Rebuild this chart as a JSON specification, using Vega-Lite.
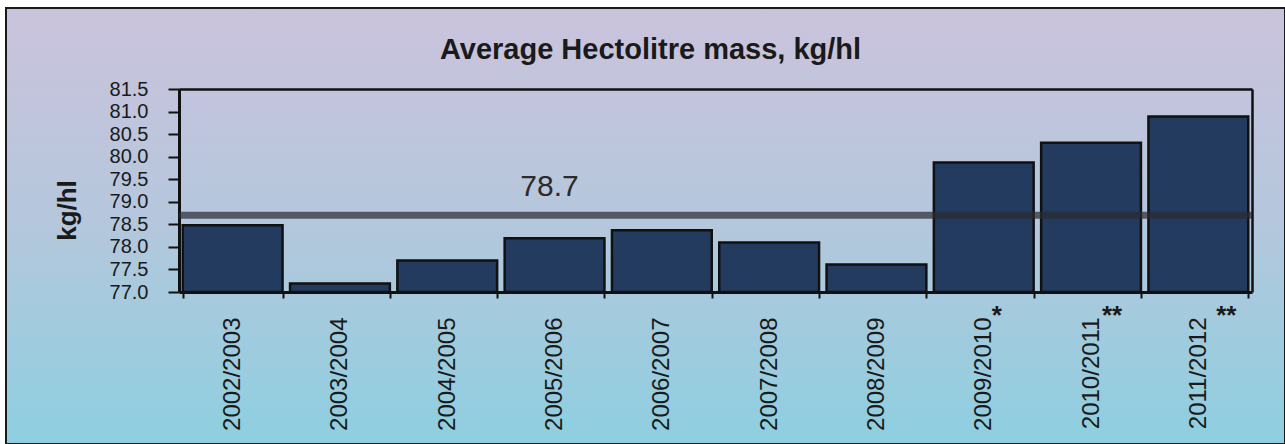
{
  "$schema": "https://vega.github.io/schema/vega-lite/v6.json",
  "width": 1279,
  "height": 436,
  "autosize": {"type": "none"},
  "padding": {"left": 6, "top": 8, "right": 0, "bottom": 0},
  "background": "white",
  "title": {
    "text": "Average Hectolitre  mass, kg/hl",
    "font": "Liberation Sans",
    "fontSize": 29,
    "fontWeight": "bold",
    "color": "#1a1a1a",
    "anchor": "middle",
    "baseline": "alphabetic",
    "offset": 0,
    "dy": 80,
    "dx": 5
  },
  "config": {
    "view": {
      "fill": {
        "gradient": "linear",
        "x1": 0, "y1": 0, "x2": 0, "y2": 1,
        "stops": [
          {"offset": 0, "color": "#CBC3DC"},
          {"offset": 0.5, "color": "#B4C7DC"},
          {"offset": 1, "color": "#8DCFE0"}
        ]
      },
      "stroke": "#1a1a1a",
      "strokeWidth": 2
    },
    "font": "Liberation Sans"
  },
  "datasets": {
    "seasons": [
      {"season": "2002/2003", "value": 78.48, "note": ""},
      {"season": "2003/2004", "value": 77.19, "note": ""},
      {"season": "2004/2005", "value": 77.7, "note": ""},
      {"season": "2005/2006", "value": 78.19, "note": ""},
      {"season": "2006/2007", "value": 78.37, "note": ""},
      {"season": "2007/2008", "value": 78.1, "note": ""},
      {"season": "2008/2009", "value": 77.61, "note": ""},
      {"season": "2009/2010", "value": 79.87, "note": "*"},
      {"season": "2010/2011", "value": 80.31, "note": "**"},
      {"season": "2011/2012", "value": 80.89, "note": "**"}
    ],
    "mean": [
      {"season": "2005/2006", "value": 78.7, "label": "78.7"}
    ]
  },
  "layer": [
    {
      "data": {"name": "seasons"},
      "mark": {"type": "bar", "fill": "#233B5F", "stroke": "#111111", "strokeWidth": 2.5},
      "encoding": {
        "x": {
          "field": "season",
          "type": "nominal",
          "sort": null,
          "scale": {"range": [173, 1246], "paddingInner": 0.07, "paddingOuter": 0.035},
          "axis": {
            "orient": "bottom",
            "offset": -152,
            "title": null,
            "labelAngle": -90,
            "labelFontSize": 24,
            "labelColor": "#1a1a1a",
            "labelPadding": 19,
            "tickSize": 6,
            "tickWidth": 2,
            "tickColor": "#111111",
            "tickBand": "extent",
            "domainColor": "#111111",
            "domainWidth": 3,
            "labelOverlap": false
          }
        },
        "y": {
          "field": "value",
          "type": "quantitative",
          "scale": {"domain": [77, 81.5], "range": [284, 81], "zero": false, "nice": false},
          "axis": {
            "orient": "left",
            "offset": -173,
            "values": [77, 77.5, 78, 78.5, 79, 79.5, 80, 80.5, 81, 81.5],
            "format": ".1f",
            "grid": false,
            "labelFontSize": 20,
            "labelColor": "#1a1a1a",
            "labelPadding": 20,
            "labelOverlap": false,
            "labelFlush": false,
            "tickSize": 11,
            "tickWidth": 2,
            "tickColor": "#111111",
            "domainColor": "#111111",
            "domainWidth": 3,
            "title": "kg/hl",
            "titleFontSize": 26,
            "titleFontWeight": "bold",
            "titleColor": "#1a1a1a",
            "titleAngle": -90,
            "titleAlign": "center",
            "titleBaseline": "alphabetic",
            "titleX": -104,
            "titleY": 202
          }
        },
        "y2": {"datum": 77}
      }
    },
    {
      "data": {"name": "mean"},
      "mark": {"type": "rule", "color": "#2a2a30", "opacity": 0.7, "strokeWidth": 7},
      "encoding": {
        "x": {"datum": "2002/2003", "type": "nominal", "bandPosition": -0.0377, "axis": null},
        "x2": {"datum": "2011/2012", "bandPosition": 1.0377},
        "y": {"field": "value", "type": "quantitative", "axis": null}
      }
    },
    {
      "data": {"name": "mean"},
      "mark": {"type": "text", "fontSize": 30, "color": "#2b2b2b", "align": "center", "baseline": "alphabetic", "dx": -5, "dy": -19},
      "encoding": {
        "x": {"field": "season", "type": "nominal", "axis": null},
        "y": {"field": "value", "type": "quantitative", "axis": null},
        "text": {"field": "label"}
      }
    },
    {
      "data": {"name": "seasons"},
      "transform": [{"filter": "datum.season === '2009/2010'"}],
      "mark": {"type": "text", "fontSize": 26, "fontWeight": "bold", "color": "#1a1a1a", "align": "center", "baseline": "alphabetic", "dx": 13, "dy": 32},
      "encoding": {
        "x": {
          "field": "season", "type": "nominal",
          "axis": {"orient": "top", "offset": -81, "labels": false, "ticks": false, "title": null, "domainColor": "#111111", "domainWidth": 2.5}
        },
        "y": {
          "datum": 77, "type": "quantitative",
          "axis": {"orient": "right", "offset": -33, "labels": false, "ticks": false, "title": null, "grid": false, "domainColor": "#111111", "domainWidth": 2.5}
        },
        "text": {"field": "note"}
      }
    },
    {
      "data": {"name": "seasons"},
      "transform": [{"filter": "datum.season === '2010/2011'"}],
      "mark": {"type": "text", "fontSize": 26, "fontWeight": "bold", "color": "#1a1a1a", "align": "center", "baseline": "alphabetic", "dx": 21, "dy": 32},
      "encoding": {
        "x": {"field": "season", "type": "nominal", "axis": null},
        "y": {"datum": 77, "type": "quantitative", "axis": null},
        "text": {"field": "note"}
      }
    },
    {
      "data": {"name": "seasons"},
      "transform": [{"filter": "datum.season === '2011/2012'"}],
      "mark": {"type": "text", "fontSize": 26, "fontWeight": "bold", "color": "#1a1a1a", "align": "center", "baseline": "alphabetic", "dx": 28, "dy": 32},
      "encoding": {
        "x": {"field": "season", "type": "nominal", "axis": null},
        "y": {"datum": 77, "type": "quantitative", "axis": null},
        "text": {"field": "note"}
      }
    }
  ]
}
